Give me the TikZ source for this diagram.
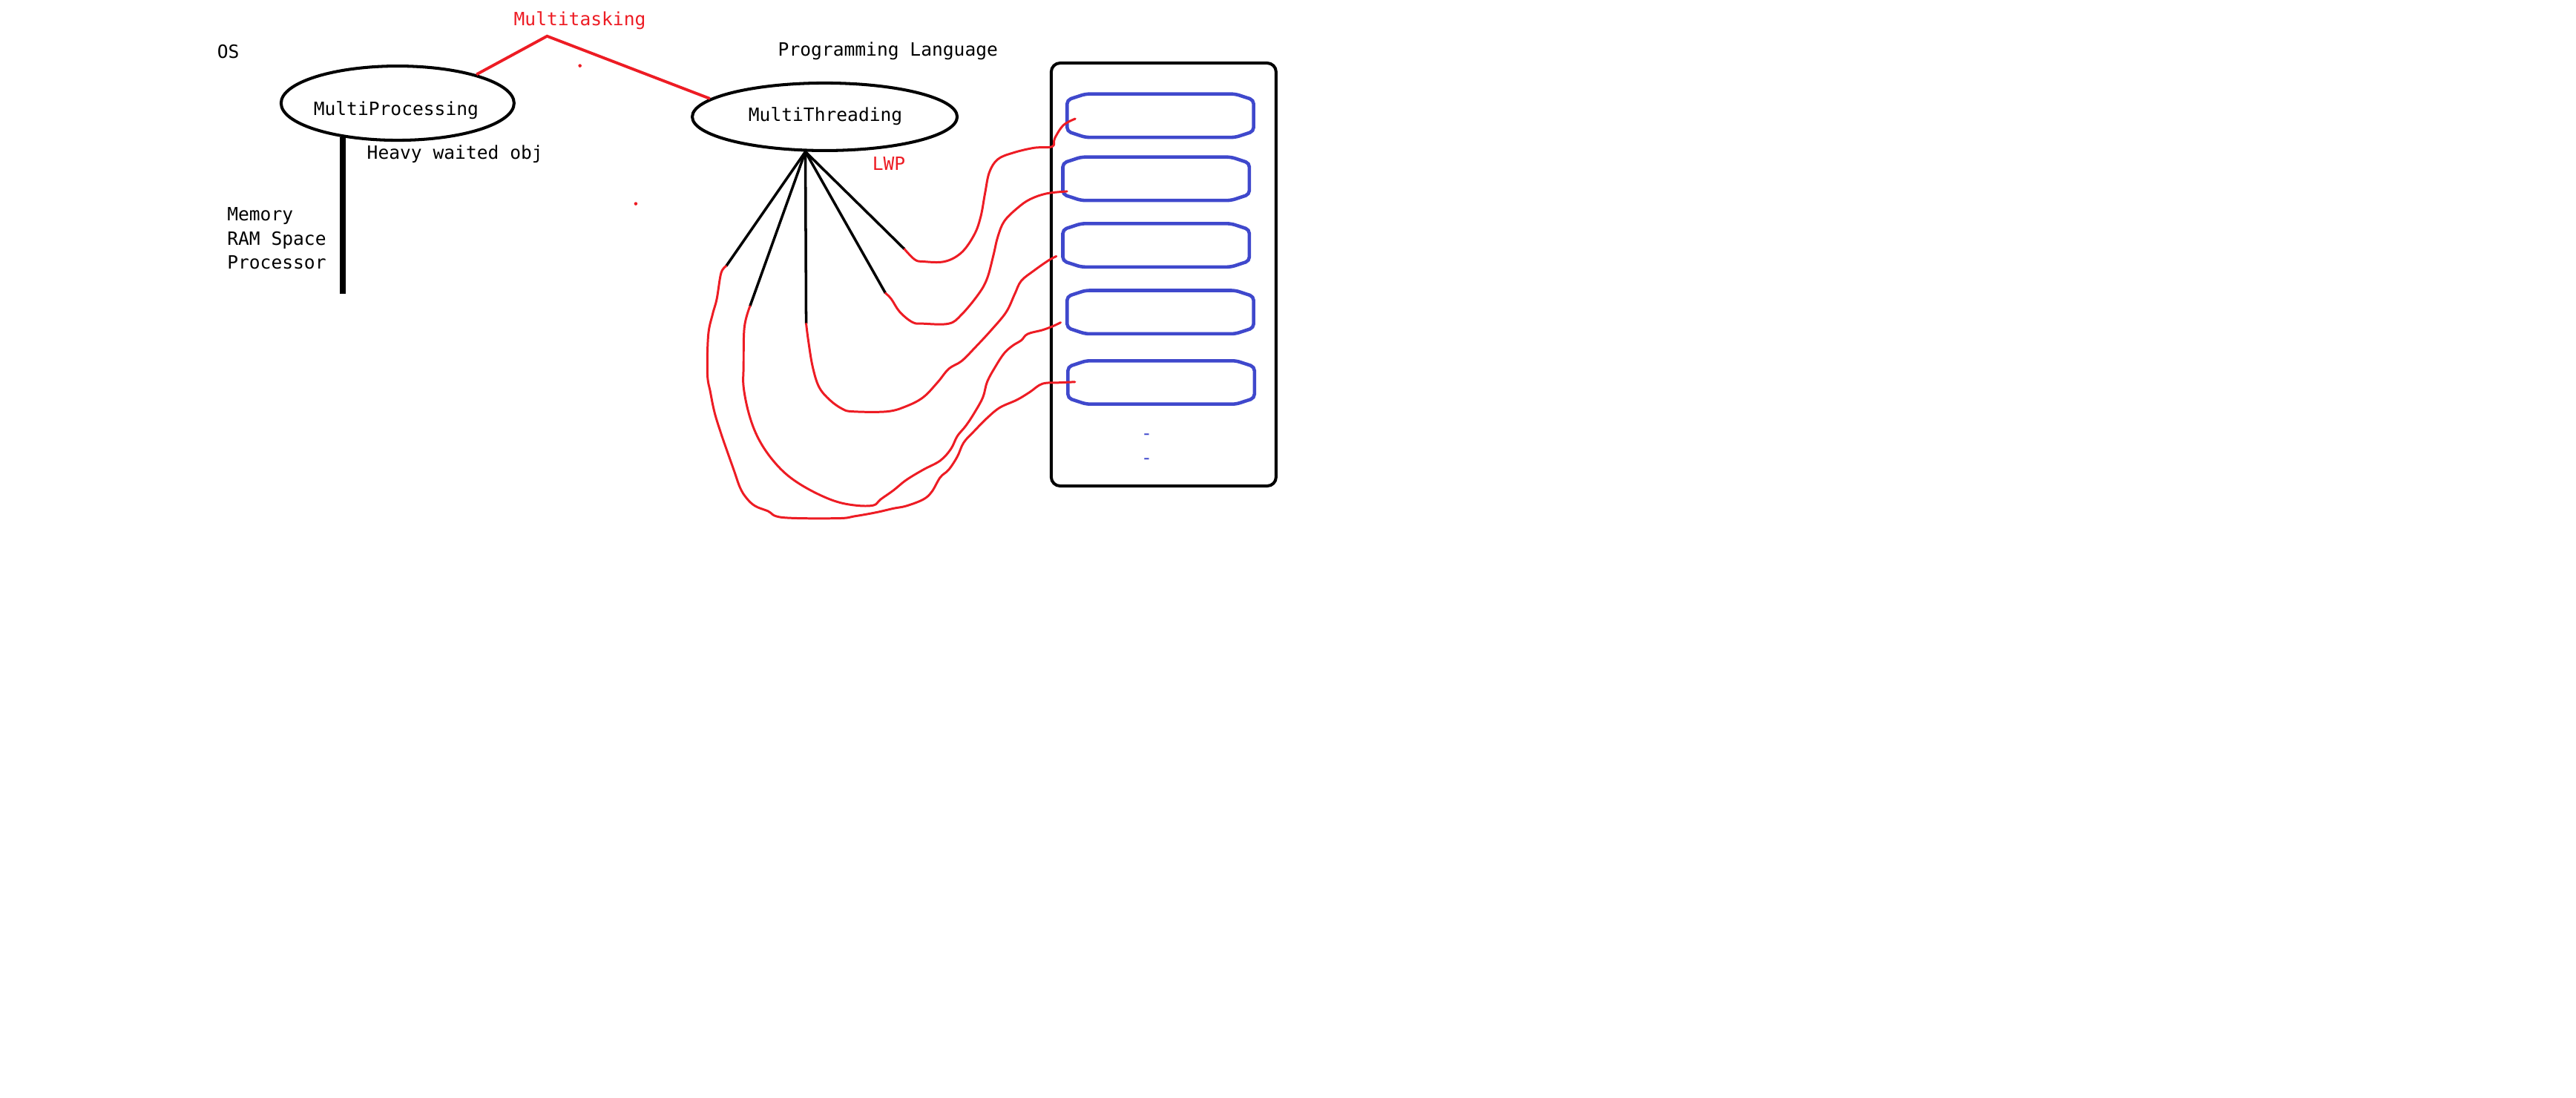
\documentclass[tikz,border=0pt]{standalone}
\usepackage{fontspec}
\setmonofont{DejaVu Sans Mono}
\usetikzlibrary{shapes.geometric}
\definecolor{pred}{RGB}{237,28,36}
\definecolor{pblue}{RGB}{63,72,204}

\begin{document}
\begin{tikzpicture}[x=0.022143cm, y=-0.022143cm,
  lbl/.style={font=\ttfamily\fontsize{7}{8}\selectfont, inner sep=0pt, anchor=base west},
  oval/.style={ellipse, draw, line width=1.15pt, inner sep=0pt},
  lwp/.style={draw=pred, line width=0.85pt, line cap=round, line join=round},
  spoke/.style={line width=1pt},
  slot/.style={rectangle, inner sep=0pt, minimum width=2.5cm, minimum height=0.57cm},
  slotline/.style={draw=pblue, line width=1.3pt, rounded corners=1.5pt}]
\useasboundingbox (0,0) rectangle (1568,668);

\node[lbl] (os) at (131.9,35.4) {OS};
\node[lbl, pred] (mtask) at (312.5,15.5) {Multitasking};
\node[lbl] (plang) at (473.3,33.9) {Programming Language};
\node[lbl] (heavy) at (223.1,96.8) {Heavy waited obj};
\node[lbl, pred] (lwptxt) at (530.7,103.6) {LWP};
\foreach \t/\y in {Memory/134.3, RAM Space/149.3, Processor/163.8}
  \node[lbl] at (138,\y) {\t};

\node[oval, minimum width=3.14cm, minimum height=1cm] (mp) at (242,62.8) {};
\node[lbl] (mptxt) at (190.6,70.3) {MultiProcessing};
\node[oval, minimum width=3.57cm, minimum height=0.91cm] (mt) at (502,71.1) {};
\node[lbl] (mttxt) at (455.3,73.8) {MultiThreading};

\coordinate (apex) at (333,22);
\draw[pred, line width=1.1pt] (mp.20) -- (apex) -- (mt.171);
\fill[pred] (353,40) circle[radius=0.65pt];
\fill[pred] (387,124) circle[radius=0.65pt];

\coordinate (stemend) at (210,179);
\draw[line width=2.3pt] (mp.212) -- (mp.212 |- stemend);

\coordinate (hub) at (mt.241);
\foreach \i/\x/\y in {1/442/162, 2/456.5/186.4, 3/490.7/197, 4/539/178.5, 5/550.5/151.6}
{
  \coordinate (t\i) at (\x,\y);
  \draw[spoke] (hub) -- (t\i);
}

\node[draw, line width=1.15pt, rounded corners=0.12cm, inner sep=0pt,
  minimum width=3.03cm, minimum height=5.7cm] (pool) at (708.3,167.1) {};
\foreach \i/\x/\y in {1/706.3/70.4, 2/703.7/108.8, 3/703.7/149.3, 4/706.3/190, 5/706.8/232.8}
{
  \node[slot] (th\i) at (\x,\y) {};
  \draw[slotline] ([xshift=7pt]th\i.north west) -- ([xshift=-7pt]th\i.north east)
    -- ([yshift=-2.3pt]th\i.north east) -- ([yshift=2.3pt]th\i.south east)
    -- ([xshift=-7pt]th\i.south east) -- ([xshift=7pt]th\i.south west)
    -- ([yshift=2.3pt]th\i.south west) -- ([yshift=-2.3pt]th\i.north west) -- cycle;
}
\node[lbl, pblue, anchor=base] (dot1) at (698,267.5) {-};
\node[lbl, pblue, anchor=base] (dot2) at (698,282.3) {-};

\draw[lwp] plot[smooth, tension=0.6] coordinates {(t5) (556.8,158) (562,159.2) (575,159.2)
  (585.3,153.7) (593.1,142.7) (597,131.7) (599.6,117.5) (602.2,104.9) (607.3,97) (616.4,93.1)
  (629.4,90) (640.5,89.2) (642,84.2) (647.3,76.2) (654.5,72.3)};
\draw[lwp] plot[smooth, tension=0.6] coordinates {(t4) (542.5,182) (547.7,189.9) (555.5,196.2)
  (562,197) (577.5,197) (585.3,191.5) (595.7,178.9) (600.9,169.4) (604.7,155.3) (607.3,144.3)
  (611.2,134.8) (619,126.9) (626.8,121.4) (637.1,117.8) (649.5,116.5)};
\draw[lwp] plot[smooth, tension=0.6] coordinates {(t3) (492,207.2) (494.6,223) (498.5,235.5)
  (505,243.4) (512.7,248.9) (519.2,250.5) (539.9,250.5) (551.6,247.3) (562,241.8) (571,232.4)
  (577.5,224.5) (585.3,219.8) (593.1,212) (603.4,200.9) (612.5,189.9) (617.7,178.9)
  (621.6,171) (629.4,164.7) (638.4,158.4) (643,156)};
\draw[lwp] plot[smooth, tension=0.6] coordinates {(t2) (453.1,199.3) (452.6,223) (452.6,235.5)
  (455.7,251.3) (460.9,265.5) (468.7,278) (479,289) (492,297.7) (507.5,304.8) (520.5,307.6)
  (531.6,307.6) (536,304) (543.8,298.5) (551.6,292.2) (562,285.9) (572.3,280.4) (578.8,273.3)
  (582.7,265.5) (587.9,259.2) (593.1,251.3) (598.3,241.8) (600.9,232.4) (606,223) (611.2,215.1)
  (616.4,210.4) (621.6,207.2) (625.5,203.3) (634.5,200.9) (641,198.5) (645.6,196.3)};
\draw[lwp] plot[smooth, tension=0.6] coordinates {(t1) (438.9,166.3) (436.3,182) (433.7,191.5)
  (431.1,204.1) (430.6,227.7) (432.4,238.7) (435,251.3) (438.9,263.9) (442.7,274.9)
  (446.6,285.9) (450.5,296.9) (454.4,303.2) (459.6,308) (467.4,311.1) (476.4,315) (510.1,315.5)
  (520.5,314.2) (533.4,311.9) (543.8,309.5) (551.6,308) (562,304) (567.2,299.3) (572.3,290.6)
  (577.5,285.9) (582.7,278) (586.6,269.4) (593.1,262.3) (600.9,254.4) (608.6,248.1) (619,243.4)
  (626.8,238.7) (634.5,233.6) (644.9,232.9) (654.3,232.5)};
\end{tikzpicture}
\end{document}
